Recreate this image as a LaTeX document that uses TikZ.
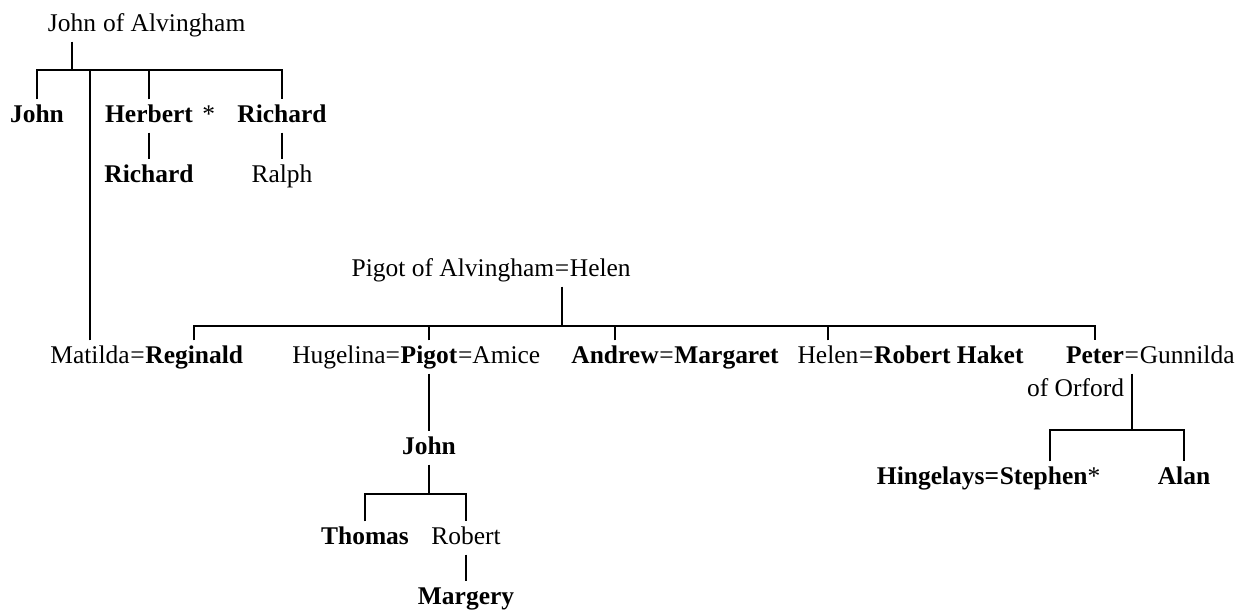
\documentclass[tikz,border=0pt]{standalone}
\usepackage{fontspec}
\setmainfont{Liberation Serif}
\usetikzlibrary{positioning}
\tikzset{person/.style={inner xsep=0pt, inner ysep=2pt, text height=11pt, text depth=3.5pt, font=\fontsize{14.5}{17}\selectfont},
heir/.style={person, font=\fontsize{14.5}{17}\selectfont\bfseries},
kin/.style={line width=1.4pt}}

\begin{document}
\begin{tikzpicture}[x=0.02cm, y=-0.02cm]
    \useasboundingbox (0,0) rectangle (1254,612);

    \coordinate (b1) at (0,70);
    \coordinate (b2) at (0,326);
    \coordinate (b3) at (0,430);
    \coordinate (b4) at (0,494);

    % John of Alvingham
    \node[person] (jalv) at (72,25) {John};
    \node[person, right=0pt of jalv] (jalvof) {\ of Alvingham};

    \node[heir] (john1) at (37,116) {John};
    \node[heir] (herbert) at (149,116) {Herbert};
    \node[person, right=5pt of herbert] (hstar) {*};
    \node[heir] (richard1) at (282,116) {Richard};
    \node[heir] (richard2) at (149,176) {Richard};
    \node[person] (ralph) at (282,176) {Ralph};

    % Pigot of Alvingham
    \node[person] (eqph) at (562,270) {=};
    \node[person, left=0pt of eqph] (pigotalv) {Pigot of Alvingham};
    \node[person, right=0pt of eqph] (helen1) {Helen};

    \node[person] (matilda) at (90,357) {Matilda};
    \node[person, right=0pt of matilda] (eqmr) {=};
    \node[heir, right=0pt of eqmr] (reginald) {Reginald};

    \node[heir] (pigot) at (429,357) {Pigot};
    \node[person, left=0pt of pigot] (hugelina) {Hugelina=};
    \node[person, right=0pt of pigot] (amice) {=Amice};

    \node[heir] (andrew) at (615,357) {Andrew};
    \node[person, right=0pt of andrew] (eqam) {=};
    \node[heir, right=0pt of eqam] (margaret) {Margaret};

    \node[person] (helen2) at (828,357) {Helen};
    \node[person, right=0pt of helen2] (eqhr) {=};
    \node[heir, right=0pt of eqhr] (haket) {Robert Haket};

    \node[heir] (peter) at (1095,357) {Peter};
    \node[person, right=0pt of peter] (eqpg) {=};
    \node[person, right=0pt of eqpg] (gunnilda) {Gunnilda};
    \node[person, anchor=north east] (orford) at (peter.south east) {of Orford};

    \node[heir] (john2) at (429,448) {John};
    \node[heir] (thomas) at (365,538) {Thomas};
    \node[person] (robert) at (466,538) {Robert};
    \node[heir] (margery) at (466,598) {Margery};

    \node[heir] (stephen) at (1050,478) {Stephen\textmd{*}};
    \node[heir, left=0pt of stephen] (hingelays) {Hingelays=};
    \node[heir] (alan) at (1184,478) {Alan};

    % lines of descent
    \draw[kin] (jalv.south) -- (jalv.south |- b1);
    \draw[kin] (john1.north) |- (richard1.north |- b1) -- (richard1.north);
    \draw[kin] (herbert.north) -- (herbert.north |- b1);
    \draw[kin] (matilda.north) -- (matilda.north |- b1);
    \draw[kin] (herbert) -- (richard2);
    \draw[kin] (richard1) -- (ralph);

    \draw[kin] (eqph.south) -- (eqph.south |- b2);
    \draw[kin] (reginald.north) |- (peter.north |- b2) -- (peter.north);
    \foreach \n in {pigot,andrew,helen2}
    \draw[kin] (\n.north) -- (\n.north |- b2);

    \draw[kin] (pigot) -- (john2);
    \draw[kin] (john2.south) -- (john2.south |- b4);
    \draw[kin] (thomas.north) |- (robert.north |- b4) -- (robert.north);
    \draw[kin] (robert) -- (margery);

    \draw[kin] (eqpg.south) -- (eqpg.south |- b3);
    \draw[kin] (stephen.north) |- (alan.north |- b3) -- (alan.north);

  \end{tikzpicture}
\end{document}
